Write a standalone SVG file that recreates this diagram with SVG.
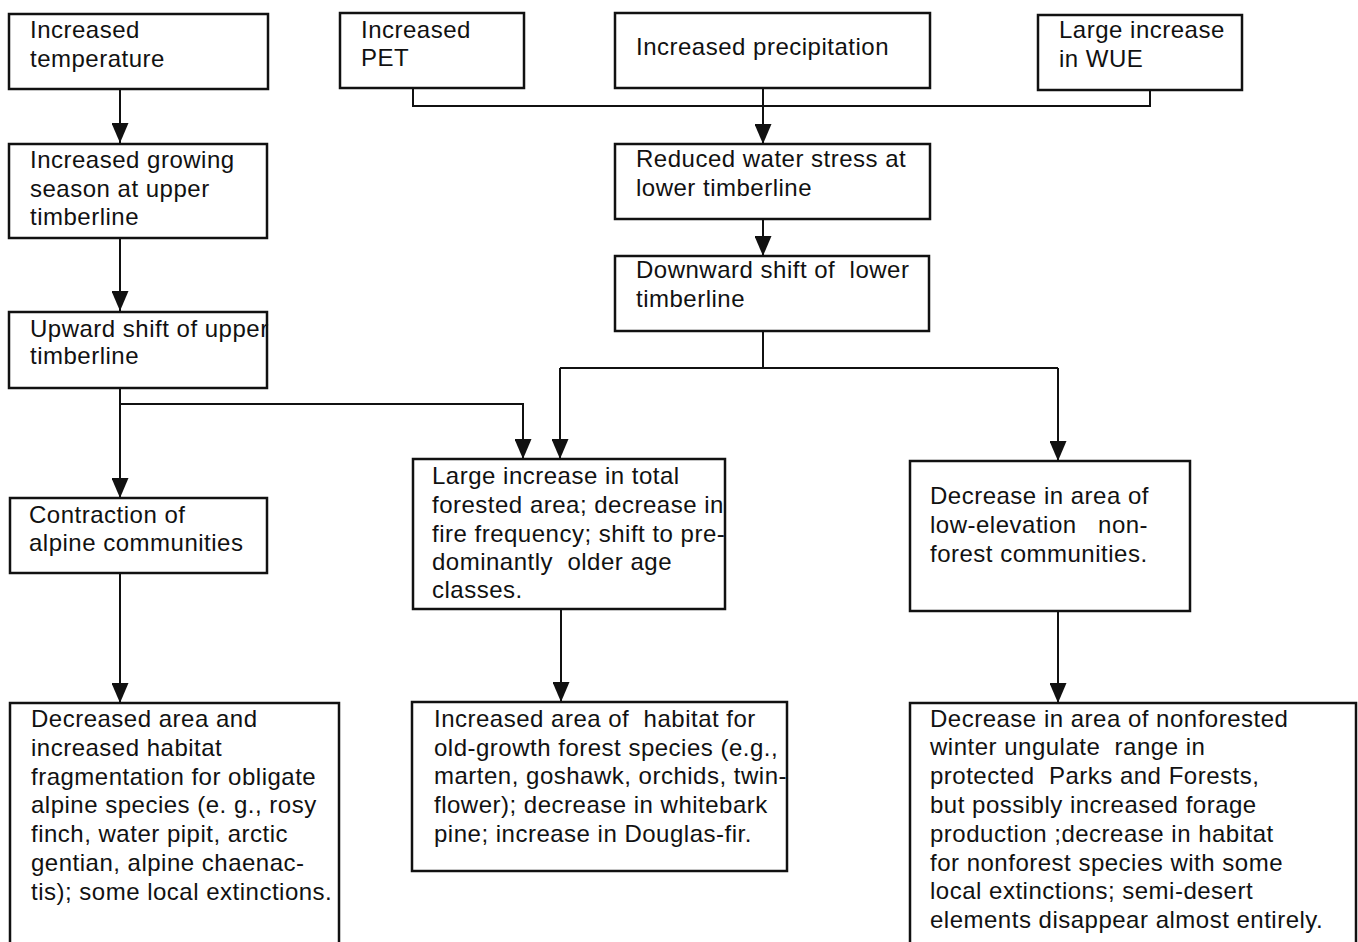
<svg xmlns="http://www.w3.org/2000/svg" width="1358" height="942" viewBox="0 0 1358 942">
<style>
.box{fill:#fff;stroke:#111;stroke-width:2.5}
.t{font-family:"Liberation Sans",Arial,Helvetica,sans-serif;font-size:24px;letter-spacing:0.5px;fill:#111}
.ln{fill:none;stroke:#111;stroke-width:2}
</style>
<defs>
<marker id="ah" markerUnits="userSpaceOnUse" markerWidth="20" markerHeight="17" viewBox="0 0 20 17" refX="20" refY="8.5" orient="auto">
<path d="M0,0 L20,8.5 L0,17 Z" fill="#111"/>
</marker>
</defs>
<rect width="1358" height="942" fill="#fff"/>
<g id="connectors">
<path class="ln" d="M120,89 V143" marker-end="url(#ah)"/>
<path class="ln" d="M120,238 V311" marker-end="url(#ah)"/>
<path class="ln" d="M120,388 V498" marker-end="url(#ah)"/>
<path class="ln" d="M120,404 H523 V459" marker-end="url(#ah)"/>
<path class="ln" d="M120,573 V703" marker-end="url(#ah)"/>
<path class="ln" d="M413,88 V106 H1150 V90"/>
<path class="ln" d="M763,88 V144" marker-end="url(#ah)"/>
<path class="ln" d="M763,219 V256" marker-end="url(#ah)"/>
<path class="ln" d="M763,331 V368"/>
<path class="ln" d="M560,368 H1058"/>
<path class="ln" d="M560,368 V459" marker-end="url(#ah)"/>
<path class="ln" d="M1058,368 V461" marker-end="url(#ah)"/>
<path class="ln" d="M561,609 V702" marker-end="url(#ah)"/>
<path class="ln" d="M1058,611 V703" marker-end="url(#ah)"/>
</g>
<g id="n1"><rect class="box" x="9" y="14" width="259" height="75"/>
<text class="t" x="30" y="38">Increased</text><text class="t" x="30" y="67">temperature</text></g>
<g id="n2"><rect class="box" x="340" y="13" width="184" height="75"/>
<text class="t" x="361" y="38">Increased</text><text class="t" x="361" y="66">PET</text></g>
<g id="n3"><rect class="box" x="615" y="13" width="315" height="75"/>
<text class="t" x="636" y="55">Increased precipitation</text></g>
<g id="n4"><rect class="box" x="1038" y="15" width="204" height="75"/>
<text class="t" x="1059" y="38">Large increase</text><text class="t" x="1059" y="67">in WUE</text></g>
<g id="n5"><rect class="box" x="615" y="144" width="315" height="75"/>
<text class="t" x="636" y="167">Reduced water stress at</text><text class="t" x="636" y="196">lower timberline</text></g>
<g id="n6"><rect class="box" x="615" y="256" width="314" height="75"/>
<text class="t" x="636" y="278" xml:space="preserve">Downward shift of  lower</text><text class="t" x="636" y="307">timberline</text></g>
<g id="n7"><rect class="box" x="9" y="144" width="258" height="94"/>
<text class="t" x="30" y="168">Increased growing</text><text class="t" x="30" y="197">season at upper</text><text class="t" x="30" y="225">timberline</text></g>
<g id="n10"><rect class="box" x="9" y="312" width="258" height="76"/>
<text class="t" x="30" y="337">Upward shift of upper</text><text class="t" x="30" y="364">timberline</text></g>
<g id="n11"><rect class="box" x="10" y="498" width="257" height="75"/>
<text class="t" x="29" y="523">Contraction of</text><text class="t" x="29" y="551">alpine communities</text></g>
<g id="n8"><rect class="box" x="413" y="459" width="312" height="150"/>
<text class="t" x="432" y="484">Large increase in total</text>
<text class="t" x="432" y="513">forested area; decrease in</text>
<text class="t" x="432" y="542">fire frequency; shift to pre-</text>
<text class="t" x="432" y="570" xml:space="preserve">dominantly  older age</text>
<text class="t" x="432" y="598">classes.</text></g>
<g id="n9"><rect class="box" x="910" y="461" width="280" height="150"/>
<text class="t" x="930" y="504">Decrease in area of</text>
<text class="t" x="930" y="533" xml:space="preserve">low-elevation   non-</text>
<text class="t" x="930" y="562">forest communities.</text></g>
<g id="n12"><rect class="box" x="10" y="703" width="329" height="260"/>
<text class="t" x="31" y="727">Decreased area and</text>
<text class="t" x="31" y="756">increased habitat</text>
<text class="t" x="31" y="785">fragmentation for obligate</text>
<text class="t" x="31" y="813">alpine species (e. g., rosy</text>
<text class="t" x="31" y="842">finch, water pipit, arctic</text>
<text class="t" x="31" y="871">gentian, alpine chaenac-</text>
<text class="t" x="31" y="900">tis); some local extinctions.</text></g>
<g id="n13"><rect class="box" x="412" y="702" width="375" height="169"/>
<text class="t" x="434" y="727" xml:space="preserve">Increased area of  habitat for</text>
<text class="t" x="434" y="756">old-growth forest species (e.g.,</text>
<text class="t" x="434" y="784">marten, goshawk, orchids, twin-</text>
<text class="t" x="434" y="813">flower); decrease in whitebark</text>
<text class="t" x="434" y="842">pine; increase in Douglas-fir.</text></g>
<g id="n14"><rect class="box" x="910" y="703" width="446" height="260"/>
<text class="t" x="930" y="727">Decrease in area of nonforested</text>
<text class="t" x="930" y="755" xml:space="preserve">winter ungulate  range in</text>
<text class="t" x="930" y="784" xml:space="preserve">protected  Parks and Forests,</text>
<text class="t" x="930" y="813">but possibly increased forage</text>
<text class="t" x="930" y="842">production ;decrease in habitat</text>
<text class="t" x="930" y="871">for nonforest species with some</text>
<text class="t" x="930" y="899">local extinctions; semi-desert</text>
<text class="t" x="930" y="928">elements disappear almost entirely.</text></g>
</svg>
